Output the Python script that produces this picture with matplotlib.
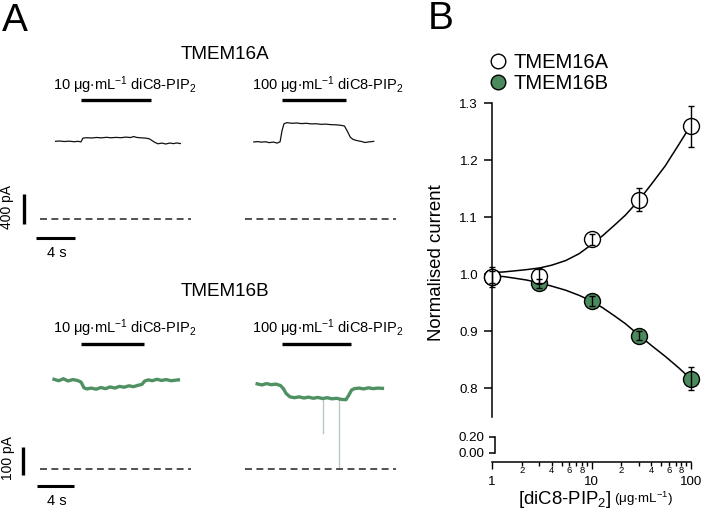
import matplotlib
matplotlib.use("Agg")
import matplotlib.pyplot as plt
from matplotlib.lines import Line2D
from matplotlib.ticker import FixedLocator, FixedFormatter, NullLocator

plt.rcParams['font.family'] = ['Liberation Sans', 'DejaVu Sans']
plt.rcParams['mathtext.fontset'] = 'custom'
plt.rcParams['mathtext.rm'] = 'Liberation Sans'
plt.rcParams['mathtext.it'] = 'Liberation Sans:italic'
plt.rcParams['mathtext.default'] = 'regular'
plt.rcParams['lines.scale_dashes'] = False

# ---------------- data: panel B ----------------
conc = [1, 3, 10, 30, 100]
a_mean = [0.995, 0.997, 1.061, 1.131, 1.260]
a_err = [0.017, 0.012, 0.010, 0.020, 0.036]
b_mean = [0.995, 0.984, 0.953, 0.892, 0.817]
b_err = [0.010, 0.008, 0.008, 0.008, 0.020]
fit_conc = [1, 1.3, 1.7, 2.2, 3, 4, 5.5, 7.5, 10, 13, 17, 22, 30, 40, 55, 75, 100]
fit_a = [1.003, 1.004, 1.006, 1.008, 1.011, 1.016, 1.024, 1.036, 1.052, 1.068,
         1.086, 1.104, 1.130, 1.158, 1.190, 1.227, 1.262]
fit_b = [0.997, 0.996, 0.993, 0.990, 0.985, 0.979, 0.972, 0.963, 0.953, 0.941,
         0.927, 0.913, 0.893, 0.875, 0.856, 0.836, 0.816]
yticks_main = [0.8, 0.9, 1.0, 1.1, 1.2, 1.3]
yticks_low = [0.0, 0.2]
xticks_major = [1, 10, 100]
xticks_minor = [2, 3, 4, 5, 6, 7, 8, 9, 20, 30, 40, 50, 60, 70, 80, 90]
series_labels = ['TMEM16A', 'TMEM16B']

# ---------------- data: panel A traces (time s, current pA) ----------------
a10_t = [1.6, 2.0, 2.5, 3.0, 3.5, 3.9, 4.2, 4.4, 4.8, 5.3, 5.8, 6.3, 6.8, 7.3, 7.8, 8.3,
         8.8, 9.3, 9.6, 9.9, 10.3, 10.8, 11.2, 11.5, 11.8, 12.1, 12.5, 12.9, 13.3, 13.7, 14.0, 14.4]
a10_i = [1036, 1040, 1033, 1038, 1030, 1036, 1028, 1078, 1084, 1080, 1087, 1082, 1089, 1083, 1088, 1084,
         1092, 1086, 1100, 1088, 1083, 1079, 1070, 1045, 1020, 1003, 1012, 1000, 1013, 1005, 1014, 1006]
a100_t = [0.9, 1.3, 1.7, 2.1, 2.5, 2.9, 3.3, 3.6, 3.8, 4.0, 4.3, 4.8, 5.3, 5.8, 6.3, 6.8,
          7.3, 7.8, 8.3, 8.8, 9.3, 9.8, 10.2, 10.5, 10.8, 11.1, 11.5, 11.9, 12.3, 12.7, 13.2]
a100_i = [1027, 1032, 1025, 1030, 1018, 1026, 1012, 1030, 1180, 1270, 1285, 1276, 1280, 1272, 1276, 1268,
          1270, 1262, 1265, 1258, 1256, 1250, 1240, 1170, 1090, 1060, 1045, 1035, 1020, 1028, 1035]
b10_t = [1.5, 2.0, 2.5, 3.0, 3.5, 4.0, 4.4, 4.7, 5.0, 5.5, 6.0, 6.5, 7.0, 7.5, 8.0, 8.5,
         9.0, 9.5, 10.0, 10.5, 10.9, 11.2, 11.6, 12.0, 12.5, 13.0, 13.5, 14.0, 14.8]
b10_i = [318, 313, 320, 312, 317, 314, 308, 288, 284, 287, 283, 289, 285, 291, 287, 293,
         290, 295, 292, 297, 300, 312, 316, 313, 318, 314, 317, 313, 316]
b100_t = [1.3, 1.8, 2.3, 2.8, 3.3, 3.8, 4.1, 4.4, 4.8, 5.3, 5.8, 6.3, 6.8, 7.3, 7.8, 8.3,
          8.8, 9.3, 9.8, 10.3, 10.8, 11.1, 11.4, 11.7, 12.2, 12.7, 13.2, 13.7, 14.2, 14.7]
b100_i = [302, 298, 303, 299, 301, 296, 285, 268, 256, 253, 256, 252, 255, 251, 254, 250,
          253, 249, 251, 247, 246, 262, 280, 285, 287, 284, 288, 285, 287, 286]
b100_spike_t = [8.3, 10.0]
b100_spike_top = [250, 251]
b100_spike_bottom = [129, 4]
# drug application windows (s)
app_a10 = (4.2, 11.35)
app_a100 = (3.77, 10.33)
app_b10 = (4.4, 11.07)
app_b100 = (3.93, 11.33)
drug_labels = [r'10 μg$\cdot$mL$^{-1}$ diC8-PIP$_2$', r'100 μg$\cdot$mL$^{-1}$ diC8-PIP$_2$']
scale_t = 4          # s
scale_i_top = 400    # pA
scale_i_bottom = 100 # pA

GREEN_M = '#4b8a5c'
GREEN_T = '#4f9162'
SPIKE = '#b9cbbf'

W, H = 709, 519
fig = plt.figure(figsize=(W / 100, H / 100), dpi=100)


def px_axes(l, t, r, b):
    return fig.add_axes([l / W, 1 - b / H, (r - l) / W, (b - t) / H])


def ftext(x, y, s, **kw):
    fig.text(x / W, 1 - y / H, s, **kw)


# ---------------- Panel A ----------------
def trace_axes(x0, y0, sx, sy, tlim, ilim):
    ax = px_axes(x0 + tlim[0] * sx, y0 - ilim[1] * sy, x0 + tlim[1] * sx, y0 - ilim[0] * sy)
    ax.set_xlim(tlim)
    ax.set_ylim(ilim)
    ax.axis('off')
    return ax


rows = [
    dict(y0=219.0, sx=9.75, sy=0.075, ilim=(-350, 2200), bar_px=99.5, lab_px=85,
         title='TMEM16A', title_px=54, scale=scale_i_top, scale_lab='400 pA',
         vbar=(-1.65, -65), hbar=(-0.4, -250), vlab_px=(7, 207), hlab_px=(57, 253)),
    dict(y0=469.3, sx=9.35, sy=0.283, ilim=(-100, 600), bar_px=343.5, lab_px=328,
         title='TMEM16B', title_px=292, scale=scale_i_bottom, scale_lab='100 pA',
         vbar=(-1.85, -20), hbar=(-0.35, -58), vlab_px=(8, 458), hlab_px=(57, 501)),
]
col_x0 = [40, 245]
col_lab_x = [125, 328]
dash_px = 151
traces = [[(a10_t, a10_i, app_a10), (a100_t, a100_i, app_a100)],
          [(b10_t, b10_i, app_b10), (b100_t, b100_i, app_b100)]]

for r, row in enumerate(rows):
    ftext(225, row['title_px'], row['title'], ha='center', va='center', fontsize=13.6)
    for c in range(2):
        ax = trace_axes(col_x0[c], row['y0'], row['sx'], row['sy'], (-4, 17), row['ilim'])
        t, i, app = traces[r][c]
        dash_len = dash_px / row['sx']
        ax.plot([0, dash_len], [0, 0], color='#222222', lw=1.1, dashes=(5.0, 3.2), clip_on=False)
        if r == 0:
            ax.plot(t, i, color='#111111', lw=0.9, clip_on=False)
        else:
            ax.plot(t, i, color=GREEN_T, lw=2.4, clip_on=False, solid_joinstyle='round')
            if c == 1:
                for st, s0, s1 in zip(b100_spike_t, b100_spike_top, b100_spike_bottom):
                    ax.plot([st, st], [s0, s1], color=SPIKE, lw=1.0, zorder=1, clip_on=False)
        bar_i = (row['y0'] - row['bar_px']) / row['sy']
        ax.plot(app, [bar_i, bar_i], color='k', lw=2.4, solid_capstyle='butt', clip_on=False)
        ftext(col_lab_x[c], row['lab_px'], drug_labels[c], ha='center', va='center', fontsize=10.5)
        if c == 0:
            vt, vi = row['vbar']
            ax.plot([vt, vt], [vi, vi + row['scale']], color='k', lw=2.4,
                    solid_capstyle='butt', clip_on=False)
            ht, hi = row['hbar']
            ax.plot([ht, ht + scale_t], [hi, hi], color='k', lw=2.2,
                    solid_capstyle='butt', clip_on=False)
            ftext(row['vlab_px'][0], row['vlab_px'][1], row['scale_lab'], rotation=90,
                  ha='center', va='center', fontsize=10)
            ftext(row['hlab_px'][0], row['hlab_px'][1], '%d s' % scale_t,
                  ha='center', va='center', fontsize=10.5)

ftext(2, 21, 'A', ha='left', va='center', fontsize=28)
ftext(428, 19, 'B', ha='left', va='center', fontsize=28)

# ---------------- Panel B ----------------
LW = 1.1
axU = px_axes(492, 103.3, 691, 416.7)
axL = px_axes(492, 436.7, 691, 461.7)
for ax in (axU, axL):
    ax.set_xscale('log')
    ax.set_xlim(1, 100)
    ax.patch.set_alpha(0)
    ax.spines['top'].set_visible(False)
    ax.spines['right'].set_visible(False)
    ax.spines['left'].set_linewidth(LW)
    ax.spines['bottom'].set_linewidth(LW)

axU.set_ylim(0.75, 1.30)
axU.spines['bottom'].set_visible(False)
axU.spines['left'].set_bounds(0.75, 1.30)
axU.xaxis.set_major_locator(NullLocator())
axU.xaxis.set_minor_locator(NullLocator())
axU.set_yticks(yticks_main)
axU.set_yticklabels(['%.1f' % v for v in yticks_main])
axU.tick_params(axis='y', direction='out', length=6, width=LW, labelsize=9.6, pad=4)

axL.set_ylim(-0.1125, 0.2)
axL.spines['left'].set_bounds(0.0, 0.2)
axL.spines['left'].set_position(('outward', -1.8))
axL.set_yticks(yticks_low)
axL.set_yticklabels(['%.2f' % v for v in yticks_low])
axL.tick_params(axis='y', direction='out', length=4, width=LW, labelsize=9.6, pad=3)
axL.xaxis.set_major_locator(FixedLocator(xticks_major))
axL.xaxis.set_major_formatter(FixedFormatter([str(v) for v in xticks_major]))
axL.xaxis.set_minor_locator(FixedLocator(xticks_minor))
axL.xaxis.set_minor_formatter(FixedFormatter(
    [str(int(str(v)[0])) if int(str(v)[0]) % 2 == 0 else '' for v in xticks_minor]))
axL.tick_params(axis='x', which='major', direction='out', length=5, width=1.0, labelsize=9.6, pad=5.5)
axL.tick_params(axis='x', which='minor', direction='out', length=3, width=1.0, labelsize=6.8, pad=0.3)

# fits
axU.plot(fit_conc, fit_a, color='k', lw=1.1, zorder=2, clip_on=False)
axU.plot(fit_conc, fit_b, color='k', lw=1.1, zorder=2, clip_on=False)
# points
MS = 11.5
axU.plot(conc, b_mean, 'o', ms=MS, mfc=GREEN_M, mec='k', mew=1.0, zorder=3, clip_on=False)
axU.plot(conc, a_mean, 'o', ms=MS, mfc='white', mec='k', mew=1.0, zorder=4, clip_on=False)
for m, e in ((b_mean, b_err), (a_mean, a_err)):
    eb = axU.errorbar(conc, m, yerr=e, fmt='none', ecolor='k', elinewidth=1.0,
                      capsize=2.4, capthick=1.0, zorder=5)
    for art in eb.get_children():
        art.set_clip_on(False)

ftext(436, 263, 'Normalised current', rotation=90, ha='center', va='center', fontsize=13.4)
ftext(612, 499, r'[diC8-PIP$_2$]', ha='right', va='center', fontsize=13.4)
ftext(614, 499, r'(μg$\cdot$mL$^{-1}$)', ha='left', va='center', fontsize=9.6)

handles = [Line2D([], [], marker='o', ls='none', ms=10.5, mfc='white', mec='k', mew=1.0),
           Line2D([], [], marker='o', ls='none', ms=10.5, mfc=GREEN_M, mec='k', mew=1.0)]
fig.legend(handles=handles, labels=series_labels, loc='upper left',
           bbox_to_anchor=(488 / W, 1 - 53 / H), frameon=False, fontsize=14.5,
           handlelength=1.0, handletextpad=0.25, labelspacing=0.12,
           borderpad=0, borderaxespad=0)

fig.savefig('out.png', dpi=100)
